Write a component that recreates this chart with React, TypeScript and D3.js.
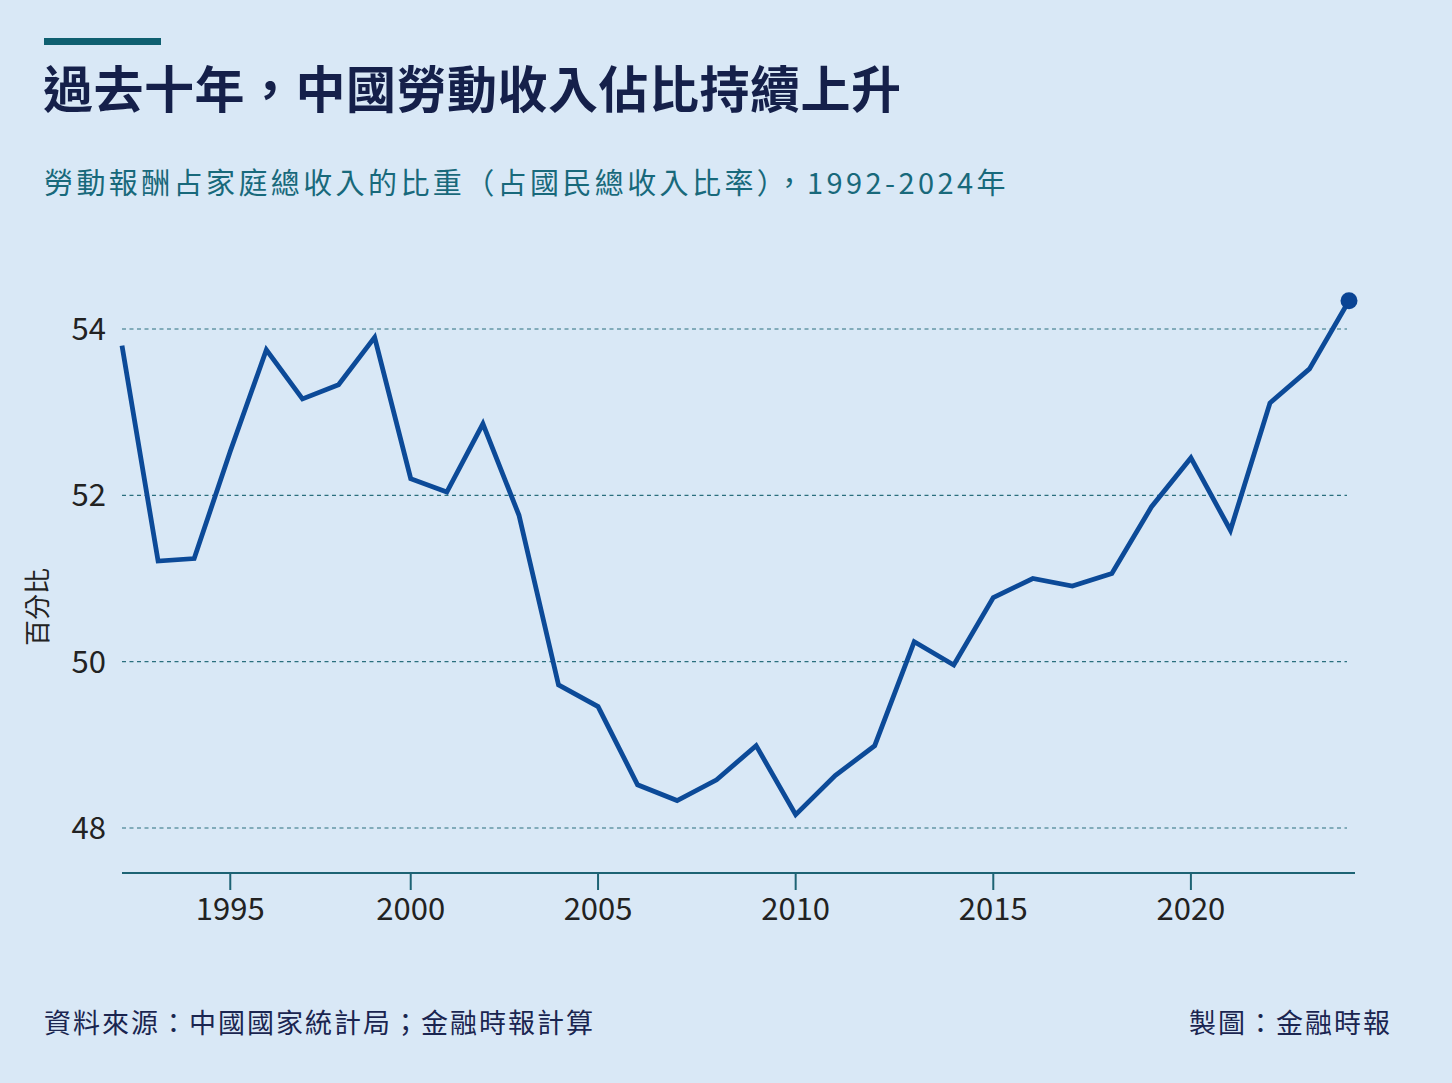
import React, { useEffect, useRef } from 'react';
import * as d3 from 'd3';

// 勞動報酬占家庭總收入的比重（%）
const years = d3.range(1992, 2025);
const values = [
  53.8, 51.21, 51.24, 52.53, 53.75, 53.16, 53.33, 53.9, 52.2, 52.04, 52.86,
  51.76, 49.72, 49.46, 48.52, 48.33, 48.58, 48.99, 48.16, 48.63, 48.99,
  50.24, 49.96, 50.77, 51.0, 50.91, 51.06, 51.86, 52.45, 51.58, 53.11,
  53.52, 54.34,
];
const xTicks = [1995, 2000, 2005, 2010, 2015, 2020];
const yTicks = [48, 50, 52, 54];

const title = '過去十年，中國勞動收入佔比持續上升';
const subtitle = '勞動報酬占家庭總收入的比重（占國民總收入比率），1992-2024年';
const yLabel = '百分比';
const source = '資料來源：中國國家統計局；金融時報計算';
const credit = '製圖：金融時報';

const W = 1452;
const H = 1083;
const CJK = '"Noto Sans CJK TC", "Noto Sans", sans-serif';

const App = () => {
  const svgRef = useRef(null);

  useEffect(() => {
    const svg = d3.select(svgRef.current);
    svg.selectAll('*').remove();

    svg.append('rect')
      .attr('width', W)
      .attr('height', H)
      .attr('fill', '#d9e8f6');

    // Header
    svg.append('rect')
      .attr('x', 44)
      .attr('y', 38)
      .attr('width', 117)
      .attr('height', 7)
      .attr('fill', '#0f5f70');

    svg.append('text')
      .attr('x', 43)
      .attr('y', 108)
      .attr('font-family', CJK)
      .attr('font-size', 50)
      .attr('font-weight', 700)
      .attr('letter-spacing', 0.5)
      .attr('fill', '#15204a')
      .text(title);

    svg.append('text')
      .attr('x', 44)
      .attr('y', 194)
      .attr('font-family', CJK)
      .attr('font-size', 29)
      .attr('letter-spacing', 3.4)
      .attr('fill', '#18697b')
      .text(subtitle);

    // Scales (the source chart's year spacing is slightly tighter in the 1990s)
    const x = d3.scaleLinear().domain([1992, 2003, 2024]).range([122, 519, 1349]);
    const y = d3.scaleLinear().domain([48, 54]).range([828, 329]);

    // Gridlines
    svg.append('g')
      .selectAll('line')
      .data(yTicks)
      .join('line')
      .attr('x1', 122)
      .attr('x2', 1347)
      .attr('y1', d => y(d))
      .attr('y2', d => y(d))
      .attr('stroke', '#2b6f7e')
      .attr('stroke-width', 1.2)
      .attr('stroke-dasharray', '4,3.5');

    // Y labels
    svg.append('g')
      .selectAll('text')
      .data(yTicks)
      .join('text')
      .attr('x', 106)
      .attr('y', d => y(d) + 11)
      .attr('text-anchor', 'end')
      .attr('font-family', CJK)
      .attr('font-size', 31)
      .attr('fill', '#222')
      .text(d => d);

    svg.append('text')
      .attr('transform', 'translate(47,607) rotate(-90)')
      .attr('text-anchor', 'middle')
      .attr('font-family', CJK)
      .attr('font-size', 26)
      .attr('fill', '#222')
      .text(yLabel);

    // X axis
    const axis = svg.append('g').attr('transform', 'translate(0,873)');
    axis.append('line')
      .attr('x1', 122)
      .attr('x2', 1355)
      .attr('stroke', '#1d6374')
      .attr('stroke-width', 2);
    axis.selectAll('.tick')
      .data(xTicks)
      .join('line')
      .attr('class', 'tick')
      .attr('x1', d => x(d))
      .attr('x2', d => x(d))
      .attr('y1', 0)
      .attr('y2', 17)
      .attr('stroke', '#1d6374')
      .attr('stroke-width', 2);
    axis.selectAll('.lbl')
      .data(xTicks)
      .join('text')
      .attr('class', 'lbl')
      .attr('x', d => x(d))
      .attr('y', 47)
      .attr('text-anchor', 'middle')
      .attr('font-family', CJK)
      .attr('font-size', 31)
      .attr('fill', '#222')
      .text(d => d);

    // Line
    const pts = years.map((yr, i) => [yr, values[i]]);
    const line = d3.line()
      .x(d => x(d[0]))
      .y(d => y(d[1]));

    svg.append('path')
      .datum(pts)
      .attr('d', line)
      .attr('fill', 'none')
      .attr('stroke', '#0c4a98')
      .attr('stroke-width', 4.8)
      .attr('stroke-linejoin', 'miter');

    const last = pts[pts.length - 1];
    svg.append('circle')
      .attr('cx', x(last[0]))
      .attr('cy', y(last[1]))
      .attr('r', 8.5)
      .attr('fill', '#0a4494');

    // Footer
    svg.append('text')
      .attr('x', 44)
      .attr('y', 1033)
      .attr('font-family', CJK)
      .attr('font-size', 27)
      .attr('letter-spacing', 2)
      .attr('fill', '#1a2550')
      .text(source);

    svg.append('text')
      .attr('x', 1392)
      .attr('y', 1033)
      .attr('text-anchor', 'end')
      .attr('font-family', CJK)
      .attr('font-size', 27)
      .attr('letter-spacing', 2)
      .attr('fill', '#1a2550')
      .text(credit);
  }, []);

  return (
    <svg
      ref={svgRef}
      width={W}
      height={H}
      style={{ position: 'absolute', left: 0, top: 0, display: 'block' }}
    />
  );
};

export default App;
